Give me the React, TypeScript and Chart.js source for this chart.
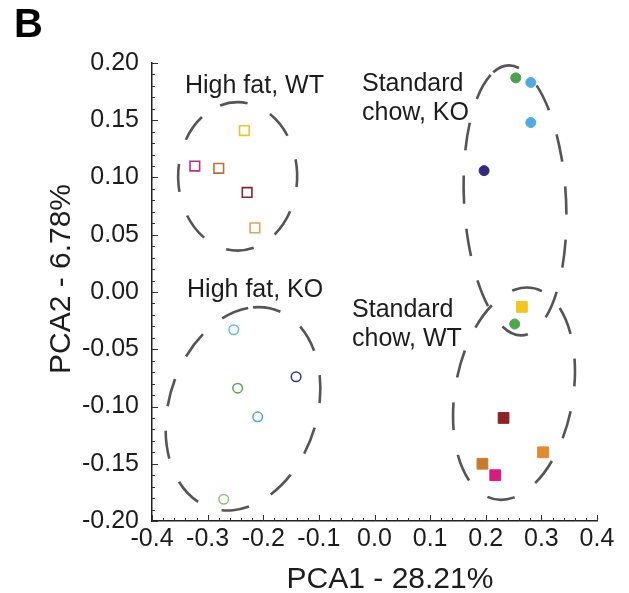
import { useEffect, useRef } from "react";
import { Chart, registerables } from "chart.js";

Chart.register(...registerables);

// High fat, WT (open squares)
const hfWtX = [-0.234, -0.323, -0.28, -0.229, -0.215];
const hfWtY = [0.141, 0.11, 0.108, 0.087, 0.056];
const hfWtColors = ["#f0c232", "#b8327c", "#b4733c", "#7e2a2e", "#e4a062"];

// Standard chow, KO (filled circles)
const scKoX = [0.254, 0.281, 0.281, 0.197, 0.252];
const scKoY = [0.187, 0.183, 0.148, 0.106, -0.028];
const scKoColors = ["#4ca04c", "#52aae0", "#52aae0", "#33297f", "#4ca84c"];

// High fat, KO (open circles)
const hfKoX = [-0.253, -0.141, -0.246, -0.21, -0.271];
const hfKoY = [-0.033, -0.074, -0.084, -0.109, -0.181];
const hfKoColors = ["#6cb6e2", "#3a3480", "#5c9e5c", "#4fa0e0", "#86c47a"];

// Standard chow, WT (filled squares)
const scWtX = [0.265, 0.232, 0.303, 0.194, 0.217];
const scWtY = [-0.013, -0.11, -0.14, -0.15, -0.16];
const scWtColors = ["#f5c51e", "#8c2224", "#e38a30", "#c67c2c", "#d81c7e"];

// Group ellipses (centre and radii in data units, rotation in degrees)
const ellCx = [-0.246, 0.2526, -0.2364, 0.2508];
const ellCy = [0.101, 0.08, -0.102, -0.0888];
const ellRx = [0.107, 0.0917, 0.133, 0.106];
const ellRy = [0.0648, 0.118, 0.091, 0.0937];
const ellRot = [0, -3, 18, 10];

// Group labels
const groupLines = [["High fat, WT"], ["Standard", "chow, KO"], ["High fat, KO"], ["Standard", "chow, WT"]];
const groupX = [-0.3407, -0.0225, -0.337, -0.0404];
const groupY = [0.1737, 0.1755, -0.004, -0.0214];

const xTitle = "PCA1 - 28.21%";
const yTitle = "PCA2 - 6.78%";
const panelLetter = "B";

const FONT = "'Liberation Sans', Arial, Helvetica, sans-serif";
const TEXT = "#1c1c1c";

function pts(xs: number[], ys: number[]) {
  return xs.map((x, i) => ({ x, y: ys[i] }));
}

const decorPlugin = {
  id: "decor",
  beforeDatasetsDraw(chart: any) {
    const { ctx } = chart;
    const xs = chart.scales.x;
    const ys = chart.scales.y;
    ctx.save();
    ctx.strokeStyle = "#555555";
    ctx.lineWidth = 2.6;
    ctx.setLineDash([28, 25]);
    ctx.lineCap = "butt";
    for (let i = 0; i < ellCx.length; i++) {
      const cx = xs.getPixelForValue(ellCx[i]);
      const cy = ys.getPixelForValue(ellCy[i]);
      const rx = Math.abs(xs.getPixelForValue(ellCx[i] + ellRx[i]) - cx);
      const ry = Math.abs(ys.getPixelForValue(ellCy[i] + ellRy[i]) - cy);
      ctx.beginPath();
      ctx.ellipse(cx, cy, rx, ry, (ellRot[i] * Math.PI) / 180, -Math.PI / 2 - 0.3, Math.PI * 1.5 - 0.3);
      ctx.stroke();
    }
    ctx.restore();
  },
  afterDraw(chart: any) {
    const { ctx, chartArea } = chart;
    const xs = chart.scales.x;
    const ys = chart.scales.y;
    ctx.save();
    // minor / major ticks pointing inward
    ctx.strokeStyle = "#333";
    ctx.lineWidth = 1;
    ctx.beginPath();
    for (let i = -20; i <= 20; i++) {
      const px = Math.round(xs.getPixelForValue(i * 0.02)) + 0.5;
      const len = i % 5 === 0 ? 6 : 3;
      ctx.moveTo(px, chartArea.bottom);
      ctx.lineTo(px, chartArea.bottom - len);
    }
    for (let i = -20; i <= 20; i++) {
      const py = Math.round(ys.getPixelForValue(i * 0.01)) + 0.5;
      const len = i % 5 === 0 ? 6 : 3;
      ctx.moveTo(chartArea.left, py);
      ctx.lineTo(chartArea.left + len, py);
    }
    ctx.stroke();

    // group labels
    ctx.fillStyle = TEXT;
    ctx.font = `25px ${FONT}`;
    ctx.textAlign = "left";
    ctx.textBaseline = "alphabetic";
    for (let i = 0; i < groupLines.length; i++) {
      const x = xs.getPixelForValue(groupX[i]);
      const y = ys.getPixelForValue(groupY[i]);
      groupLines[i].forEach((line, j) => ctx.fillText(line, x, y + j * 29));
    }

    // axis titles
    ctx.font = `30px ${FONT}`;
    ctx.textAlign = "center";
    ctx.fillText(xTitle, 390, 588);
    ctx.save();
    ctx.translate(70, 279);
    ctx.rotate(-Math.PI / 2);
    ctx.fillText(yTitle, 0, 0);
    ctx.restore();

    // panel letter
    ctx.font = `bold 40px ${FONT}`;
    ctx.textAlign = "left";
    ctx.fillStyle = "#000";
    ctx.fillText(panelLetter, 14, 37);
    ctx.restore();
  },
};

export default function App() {
  const ref = useRef<HTMLCanvasElement | null>(null);
  useEffect(() => {
    if (!ref.current) return;
    const chart = new Chart(ref.current, {
      type: "scatter",
      data: {
        datasets: [
          {
            label: "High fat, WT",
            data: pts(hfWtX, hfWtY),
            pointStyle: "rect",
            pointRadius: 6.8,
            pointBorderWidth: 1.6,
            pointBackgroundColor: "rgba(255,255,255,0)",
            pointBorderColor: hfWtColors,
          },
          {
            label: "Standard chow, KO",
            data: pts(scKoX, scKoY),
            pointStyle: "circle",
            pointRadius: 5,
            pointBorderWidth: 1,
            pointBackgroundColor: scKoColors,
            pointBorderColor: scKoColors,
          },
          {
            label: "High fat, KO",
            data: pts(hfKoX, hfKoY),
            pointStyle: "circle",
            pointRadius: 4.8,
            pointBorderWidth: 1.5,
            pointBackgroundColor: "rgba(255,255,255,0)",
            pointBorderColor: hfKoColors,
          },
          {
            label: "Standard chow, WT",
            data: pts(scWtX, scWtY),
            pointStyle: "rect",
            pointRadius: 7.6,
            pointBorderWidth: 1,
            pointBackgroundColor: scWtColors,
            pointBorderColor: scWtColors,
          },
        ],
      },
      options: {
        responsive: false,
        animation: false,
        layout: { padding: { left: 0, top: 63, right: 32, bottom: 0 } },
        plugins: { legend: { display: false }, tooltip: { enabled: false } },
        scales: {
          x: {
            type: "linear",
            min: -0.4,
            max: 0.4,
            afterFit: (s: any) => {
              s.height = 72;
            },
            grid: { display: false, drawTicks: false },
            border: { display: true, color: "#222", width: 1.5 },
            ticks: {
              stepSize: 0.1,
              padding: 3,
              color: TEXT,
              font: { family: FONT, size: 25 },
              maxRotation: 0,
              callback: (v: any) => (Math.abs(Number(v)) < 1e-9 ? 0 : Number(v)).toFixed(1),
            },
          },
          y: {
            type: "linear",
            min: -0.2,
            max: 0.2,
            afterFit: (s: any) => {
              s.width = 152;
            },
            grid: { display: false, drawTicks: false },
            border: { display: true, color: "#222", width: 1.5 },
            ticks: {
              stepSize: 0.05,
              padding: 13,
              color: TEXT,
              font: { family: FONT, size: 25 },
              callback: (v: any) => (Math.abs(Number(v)) < 1e-9 ? 0 : Number(v)).toFixed(2),
            },
          },
        },
      },
      plugins: [decorPlugin],
    });
    return () => chart.destroy();
  }, []);
  return (
    <div style={{ position: "absolute", left: 0, top: 0, width: 629, height: 593, background: "#fff" }}>
      <canvas ref={ref} width={629} height={593} style={{ display: "block" }} />
    </div>
  );
}
